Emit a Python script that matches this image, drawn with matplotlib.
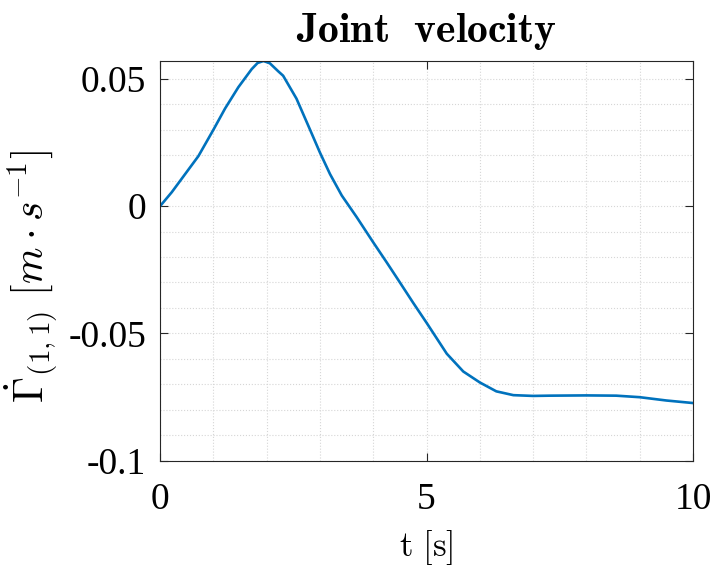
import matplotlib
matplotlib.use("Agg")
import matplotlib.pyplot as plt
from matplotlib.ticker import MultipleLocator

# joint velocity samples (t in s, velocity in m/s)
t = [0.0, 0.22, 0.47, 0.72, 1.0, 1.22, 1.47, 1.72, 1.83, 1.94, 2.06,
     2.22, 2.31, 2.56, 2.81, 3.0, 3.19, 3.41, 3.69, 4.0, 4.25, 4.47,
     4.75, 5.0, 5.38, 5.69, 6.0, 6.31, 6.63, 7.0, 7.31, 8.0, 8.56,
     9.0, 9.5, 10.0]
vel = [0.0, 0.0055, 0.0126, 0.0197, 0.0300, 0.0384, 0.0468, 0.0539,
       0.0563, 0.0571, 0.0562, 0.0530, 0.0513, 0.0423, 0.0303, 0.0211,
       0.0126, 0.0042, -0.0043, -0.0142, -0.0220, -0.0290, -0.0380,
       -0.0458, -0.0580, -0.0650, -0.0693, -0.0728, -0.0743, -0.0746,
       -0.0745, -0.0744, -0.0745, -0.0751, -0.0764, -0.0774]

xticks = [0, 5, 10]
yticks = [-0.1, -0.05, 0, 0.05]
yticklabels = ["-0.1", "-0.05", "0", "0.05"]

plt.rcParams["mathtext.fontset"] = "cm"
plt.rcParams["font.family"] = ["Liberation Serif", "DejaVu Serif"]

fig = plt.figure(figsize=(7.17, 5.72), dpi=100)
ax = fig.add_axes([0.2232, 0.1949, 0.7433, 0.6985])

ax.plot(t, vel, color="#0072BD", linewidth=1.9, solid_joinstyle="round")

ax.set_xlim(0, 10)
ax.set_ylim(-0.1, max(vel))
ax.set_xticks(xticks)
ax.set_xticklabels([str(x) for x in xticks])
ax.set_yticks(yticks)
ax.set_yticklabels(yticklabels)
ax.xaxis.set_minor_locator(MultipleLocator(1))
ax.yaxis.set_minor_locator(MultipleLocator(0.01))

ax.grid(True, which="both", linestyle=":", color="#d6d6d6", linewidth=0.8)
ax.set_axisbelow(True)

ax.tick_params(which="major", direction="in", length=6, width=0.8,
               top=True, right=True, labelsize=27, colors="#262626")
ax.tick_params(axis="x", pad=16)
ax.tick_params(axis="y", pad=10)
ax.tick_params(which="minor", length=0)
for sp in ax.spines.values():
    sp.set_color("#262626")
    sp.set_linewidth(0.8)
ax.tick_params(labelcolor="black")

ax.set_title(r"$\mathbf{Joint\ \ velocity}$", fontsize=30, pad=14)
ax.set_xlabel(r"$\mathrm{t\ [s]}$", fontsize=25, labelpad=8)
ax.set_ylabel(r"$\dot{\Gamma}_{(1,1)}\ [m \cdot s^{-1}]$", fontsize=30)
ax.yaxis.set_label_coords(-0.19, 0.46)

fig.savefig("out.png", dpi=100)
